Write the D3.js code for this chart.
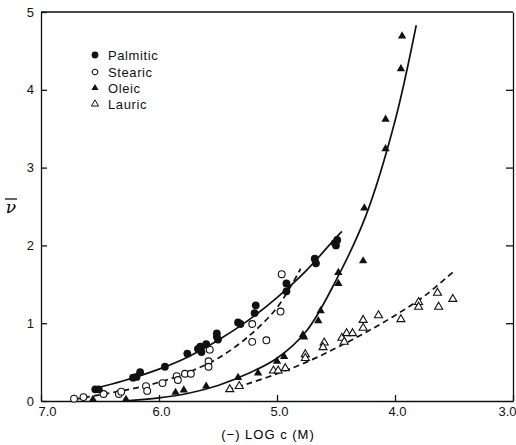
<!DOCTYPE html>
<html lang="en">
  <head>
    <meta charset="UTF-8">
    <title>Fatty acid binding</title>
    <style>
    * {
      box-sizing: border-box;
      margin: 0;
      padding: 0;
    }

    body {
      background: #fff;
    }

    svg {
      display: block;
      font-family: "Liberation Sans", sans-serif;
    }

    .tick text {
      font-size: 13px;
      fill: #111;
    }

    .tick line, .domain, .frame {
      stroke: #111;
      stroke-width: 1.3px;
    }

    .fit {
      fill: none;
      stroke: #111;
      stroke-width: 1.7px;
    }

    .fit.dashed {
      stroke-dasharray: 6 4;
    }

    .legend text {
      font-size: 13px;
      letter-spacing: 0.6px;
      fill: #111;
    }
    </style>
  </head>
  <body>
    <svg width="516" height="445"></svg>
    <script src="https://d3js.org/d3.v7.min.js"></script>
    <script>
      // points: [ -log c , nu ]
      const palmitic = [[6.54,0.15],[6.51,0.15],[6.22,0.30],[6.19,0.31],[6.16,0.37],[5.95,0.44],
        [5.76,0.61],[5.67,0.67],[5.65,0.70],[5.64,0.63],[5.60,0.73],[5.51,0.87],[5.51,0.83],
        [5.50,0.79],[5.33,1.01],[5.31,0.99],[5.18,1.23],[5.19,1.13],[4.92,1.51],[4.92,1.41],
        [4.68,1.83],[4.67,1.77],[4.51,2.03],[4.49,2.07],[4.50,2.00]];
      const stearic = [[6.72,0.03],[6.64,0.05],[6.47,0.09],[6.34,0.09],[6.32,0.12],[6.11,0.19],
        [6.10,0.13],[5.97,0.23],[5.85,0.32],[5.84,0.27],[5.78,0.35],[5.73,0.35],[5.57,0.66],
        [5.58,0.51],[5.58,0.44],[5.21,0.99],[5.21,0.76],[5.09,0.78],[4.96,1.63],[4.97,1.15]];
      const oleic = [[6.56,0.02],[6.28,0.02],[5.86,0.11],[5.79,0.14],[5.60,0.19],[5.33,0.30],
        [5.16,0.36],[5.00,0.51],[4.94,0.57],[4.78,0.85],[4.77,0.82],[4.65,1.03],[4.63,1.16],
        [4.48,1.51],[4.48,1.65],[4.27,1.80],[4.26,2.48],[4.08,3.24],[4.08,3.62],[3.95,4.27],
        [3.94,4.69]];
      const lauric = [[5.40,0.15],[5.32,0.19],[5.03,0.39],[4.99,0.39],[4.93,0.42],[4.76,0.60],
        [4.76,0.55],[4.60,0.75],[4.61,0.69],[4.45,0.81],[4.43,0.76],[4.41,0.87],[4.36,0.87],
        [4.27,1.04],[4.27,0.94],[4.14,1.10],[3.95,1.05],[3.80,1.27],[3.80,1.21],[3.64,1.39],
        [3.63,1.21],[3.51,1.31]];

      // hand-drawn fit curves
      const palmiticFit = [[6.55,0.16],[6.3,0.26],[6.0,0.41],[5.75,0.57],[5.5,0.78],[5.25,1.03],
        [5.0,1.33],[4.75,1.68],[4.5,2.1],[4.45,2.18]];
      const stearicFit = [[6.72,0.02],[6.5,0.08],[6.25,0.15],[6.0,0.24],[5.75,0.37],[5.5,0.55],
        [5.25,0.82],[5.0,1.2],[4.8,1.7]];
      const oleicFit = [[6.3,0.0],[6.0,0.04],[5.75,0.1],[5.5,0.2],[5.25,0.35],[5.0,0.55],
        [4.75,0.9],[4.5,1.55],[4.25,2.37],[4.0,3.6],[3.82,4.83]];
      const lauricFit = [[5.42,0.14],[5.25,0.22],[5.0,0.35],[4.75,0.5],[4.5,0.68],[4.25,0.88],
        [4.0,1.1],[3.75,1.35],[3.5,1.67]];

      const xTicks = [7, 6, 5, 4, 3];
      const yTicks = [0, 1, 2, 3, 4, 5];
      const seriesNames = ["Palmitic", "Stearic", "Oleic", "Lauric"];

      const svg = d3.select("svg");
      const x = d3.scaleLinear().domain([7, 3]).range([41, 513]);
      const y = d3.scaleLinear().domain([0, 5]).range([401, 12]);

      // frame
      svg.append("line").attr("class", "frame")
        .attr("x1", x(7)).attr("x2", x(3)).attr("y1", y(5)).attr("y2", y(5));

      svg.append("g")
        .attr("transform", `translate(${x(7)},0)`)
        .call(d3.axisLeft(y).tickValues(yTicks).tickFormat(d3.format("d"))
          .tickSize(-6).tickSizeOuter(0).tickPadding(7));

      svg.append("g")
        .attr("transform", `translate(${x(3)},0)`)
        .call(d3.axisRight(y).tickValues(yTicks.slice(1, 5)).tickFormat("")
          .tickSize(-7).tickSizeOuter(0));

      const xAxis = svg.append("g")
        .attr("transform", `translate(0,${y(0)})`)
        .call(d3.axisBottom(x).tickValues(xTicks).tickFormat(d3.format(".1f"))
          .tickSize(-6).tickSizeOuter(0).tickPadding(6));

      // first and last labels sit inside the frame in the original
      xAxis.selectAll(".tick text")
        .attr("text-anchor", d => d === 3 ? "end" : "middle")
        .attr("dx", d => d === 7 ? 6 : (d === 3 ? 3 : 2));

      svg.selectAll(".domain").attr("fill", "none");

      // axis titles
      svg.append("text")
        .attr("x", 268).attr("y", 439)
        .attr("text-anchor", "middle")
        .style("font-size", "13px")
        .style("letter-spacing", "1px")
        .text("(\u2212) LOG c (M)");

      svg.append("text")
        .attr("x", 11).attr("y", 213)
        .attr("text-anchor", "middle")
        .style("font-family", "DejaVu Serif")
        .style("font-style", "italic")
        .style("font-size", "17px")
        .text("\u03bd");
      svg.append("line").attr("class", "frame")
        .attr("x1", 5).attr("x2", 17).attr("y1", 199).attr("y2", 199);

      // fit curves
      const line = d3.line()
        .x(d => x(d[0]))
        .y(d => y(d[1]))
        .curve(d3.curveCatmullRom);

      svg.append("path").attr("class", "fit").attr("d", line(palmiticFit));
      svg.append("path").attr("class", "fit").attr("d", line(oleicFit));
      svg.append("path").attr("class", "fit dashed").attr("d", line(stearicFit));
      svg.append("path").attr("class", "fit dashed").attr("d", line(lauricFit));

      // markers
      const tri = d3.symbol().type(d3.symbolTriangle);

      function drawCircles(data, filled) {
        svg.append("g").selectAll("circle")
          .data(data)
          .enter().append("circle")
          .attr("cx", d => x(d[0]))
          .attr("cy", d => y(d[1]))
          .attr("r", filled ? 3.9 : 3.4)
          .attr("fill", filled ? "#111" : "#fff")
          .attr("stroke", "#111")
          .attr("stroke-width", filled ? 0 : 1.1);
      }

      function drawTriangles(data, filled) {
        svg.append("g").selectAll("path")
          .data(data)
          .enter().append("path")
          .attr("d", tri.size(filled ? 30 : 28)())
          .attr("transform", d => `translate(${x(d[0])},${y(d[1])})`)
          .attr("fill", filled ? "#111" : "#fff")
          .attr("stroke", "#111")
          .attr("stroke-width", filled ? 0 : 1.1);
      }

      drawCircles(stearic, false);
      drawTriangles(lauric, false);
      drawCircles(palmitic, true);
      drawTriangles(oleic, true);

      // legend
      const legend = svg.append("g").attr("class", "legend");
      const rows = [55, 72, 88, 104];
      seriesNames.forEach((name, i) => {
        const g = legend.append("g").attr("transform", `translate(95,${rows[i]})`);
        if (i < 2) {
          g.append("circle")
            .attr("r", i === 0 ? 3.4 : 2.8)
            .attr("fill", i === 0 ? "#111" : "#fff")
            .attr("stroke", "#111")
            .attr("stroke-width", i === 0 ? 0 : 1.1);
        } else {
          g.append("path")
            .attr("d", tri.size(22)())
            .attr("fill", i === 2 ? "#111" : "#fff")
            .attr("stroke", "#111")
            .attr("stroke-width", i === 2 ? 0 : 1);
        }
        g.append("text")
          .attr("x", 13).attr("dy", "0.35em")
          .text(name);
      });
    </script>
  </body>
</html>
